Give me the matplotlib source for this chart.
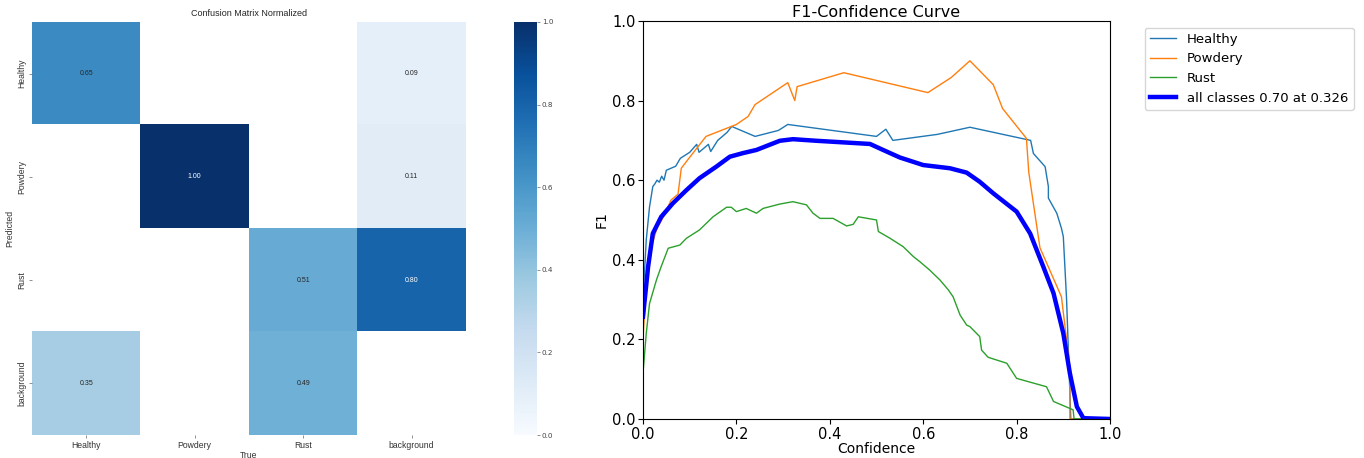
import numpy as np
import matplotlib
matplotlib.use("Agg")
import matplotlib.pyplot as plt
from matplotlib.colors import to_rgb

# ---- confusion matrix data ----
classes = ["Healthy", "Powdery", "Rust", "background"]
cm = np.array([
    [0.65, 0.00, 0.00, 0.09],
    [0.00, 1.00, 0.00, 0.11],
    [0.00, 0.00, 0.51, 0.80],
    [0.35, 0.00, 0.49, 0.00],
])

# ---- F1-confidence curve data ----
healthy_x = [0.0, 0.007, 0.014, 0.021, 0.025, 0.03, 0.035, 0.04, 0.045, 0.05, 0.07, 0.08,
             0.10, 0.115, 0.12, 0.14, 0.145, 0.16, 0.18, 0.19, 0.24, 0.29, 0.31, 0.50,
             0.52, 0.535, 0.63, 0.70, 0.83, 0.836, 0.861, 0.868, 0.868, 0.886, 0.896,
             0.90, 0.907, 0.916, 1.0]
healthy_y = [0.30, 0.45, 0.533, 0.584, 0.59, 0.60, 0.595, 0.61, 0.60, 0.625, 0.635, 0.655,
             0.67, 0.69, 0.67, 0.69, 0.672, 0.70, 0.72, 0.735, 0.71, 0.725, 0.74, 0.71,
             0.728, 0.70, 0.715, 0.733, 0.70, 0.667, 0.634, 0.584, 0.555, 0.517, 0.479,
             0.458, 0.30, 0.0, 0.0]

powdery_x = [0.0, 0.005, 0.01, 0.02, 0.03, 0.045, 0.06, 0.075, 0.082, 0.095, 0.115, 0.135,
             0.20, 0.225, 0.24, 0.31, 0.325, 0.33, 0.43, 0.61, 0.66, 0.70, 0.75, 0.77,
             0.821, 0.826, 0.85, 0.865, 0.896, 0.914, 0.914, 1.0]
powdery_y = [0.20, 0.30, 0.38, 0.44, 0.48, 0.51, 0.55, 0.565, 0.63, 0.65, 0.68, 0.71,
             0.74, 0.76, 0.79, 0.845, 0.80, 0.835, 0.87, 0.82, 0.858, 0.90, 0.84, 0.78,
             0.705, 0.62, 0.43, 0.39, 0.307, 0.13, 0.0, 0.0]

rust_x = [0.0, 0.007, 0.014, 0.029, 0.039, 0.054, 0.079, 0.093, 0.121, 0.15, 0.179, 0.189,
          0.20, 0.221, 0.243, 0.257, 0.293, 0.321, 0.35, 0.364, 0.379, 0.407, 0.436, 0.45,
          0.461, 0.50, 0.504, 0.529, 0.557, 0.579, 0.593, 0.614, 0.636, 0.654, 0.664,
          0.679, 0.693, 0.70, 0.721, 0.725, 0.739, 0.779, 0.80, 0.864, 0.879, 0.921,
          0.923, 1.0]
rust_y = [0.115, 0.215, 0.29, 0.35, 0.383, 0.429, 0.437, 0.454, 0.475, 0.508, 0.532, 0.532,
          0.521, 0.529, 0.517, 0.529, 0.540, 0.546, 0.538, 0.517, 0.504, 0.504, 0.485, 0.489,
          0.508, 0.50, 0.471, 0.454, 0.433, 0.408, 0.395, 0.374, 0.349, 0.324, 0.307,
          0.261, 0.236, 0.232, 0.207, 0.173, 0.155, 0.140, 0.102, 0.081, 0.044, 0.023,
          0.0, 0.0]

all_x = [0.0, 0.011, 0.021, 0.039, 0.064, 0.093, 0.121, 0.157, 0.186, 0.214, 0.243, 0.293,
         0.321, 0.371, 0.443, 0.486, 0.514, 0.55, 0.60, 0.657, 0.693, 0.721, 0.75, 0.80,
         0.829, 0.857, 0.879, 0.90, 0.914, 0.929, 0.943, 1.0]
all_y = [0.257, 0.383, 0.466, 0.508, 0.542, 0.575, 0.605, 0.634, 0.659, 0.668, 0.676, 0.699,
         0.703, 0.699, 0.694, 0.691, 0.676, 0.657, 0.638, 0.630, 0.619, 0.596, 0.567, 0.521,
         0.466, 0.383, 0.316, 0.215, 0.115, 0.031, 0.002, 0.0]

fig = plt.figure(figsize=(13.64, 4.58), dpi=100)

# ---------- left: heatmap ----------
ax1 = fig.add_axes([0.0235, 0.050, 0.318, 0.902])
cmap = plt.get_cmap("Blues")
masked = np.ma.masked_where(cm < 0.005, cm)
im = ax1.imshow(masked, cmap=cmap, vmin=0, vmax=1, aspect="auto", interpolation="nearest")
for i in range(4):
    for j in range(4):
        v = cm[i, j]
        if v < 0.005:
            continue
        r, g, b = to_rgb(cmap(v))
        lum = 0.2126 * r + 0.7152 * g + 0.0722 * b
        col = "#262626" if lum > 0.408 else "white"
        ax1.text(j, i, f"{v:.2f}", ha="center", va="center", fontsize=5,
                 color=col, family="Liberation Sans")
for s in ax1.spines.values():
    s.set_visible(False)
ax1.set_xticks(range(4))
ax1.set_yticks(range(4))
ax1.set_xticklabels(classes, fontsize=6.2, family="Liberation Sans", color="#333333")
ax1.set_yticklabels(classes, fontsize=6.2, family="Liberation Sans", color="#333333",
                    rotation=90, va="center")
ax1.tick_params(length=2, width=0.5, color="#666666", pad=2)
ax1.set_xlabel("True", fontsize=6.2, family="Liberation Sans", color="#333333", labelpad=1)
ax1.set_ylabel("Predicted", fontsize=6.2, family="Liberation Sans", color="#333333", labelpad=2)
ax1.set_title("Confusion Matrix Normalized", fontsize=6.5, family="Liberation Sans",
              color="#262626", pad=4)

cax = fig.add_axes([0.3768, 0.050, 0.0169, 0.902])
cb = fig.colorbar(im, cax=cax)
cb.outline.set_visible(False)
cb.set_ticks([0.0, 0.2, 0.4, 0.6, 0.8, 1.0])
cb.ax.tick_params(labelsize=5.2, length=2, width=0.5, color="#666666", labelcolor="#444444", pad=1.5)

# ---------- right: F1 curve ----------
ax2 = fig.add_axes([0.4714, 0.0852, 0.3424, 0.869])
ax2.plot(healthy_x, healthy_y, color="#1f77b4", lw=1, label="Healthy")
ax2.plot(powdery_x, powdery_y, color="#ff7f0e", lw=1, label="Powdery")
ax2.plot(rust_x, rust_y, color="#2ca02c", lw=1, label="Rust")
ax2.plot(all_x, all_y, color="blue", lw=3.2, label="all classes 0.70 at 0.326")
ax2.set_xlim(0, 1)
ax2.set_ylim(0, 1)
ax2.set_xlabel("Confidence", fontsize=10, labelpad=0)
ax2.set_ylabel("F1", fontsize=10, labelpad=2)
ax2.set_title("F1-Confidence Curve", fontsize=11.5, pad=3)
ax2.tick_params(labelsize=10.5, pad=2)
ax2.legend(bbox_to_anchor=(1.06, 1), loc="upper left", fontsize=9.5)

fig.savefig("out.png", dpi=100)
